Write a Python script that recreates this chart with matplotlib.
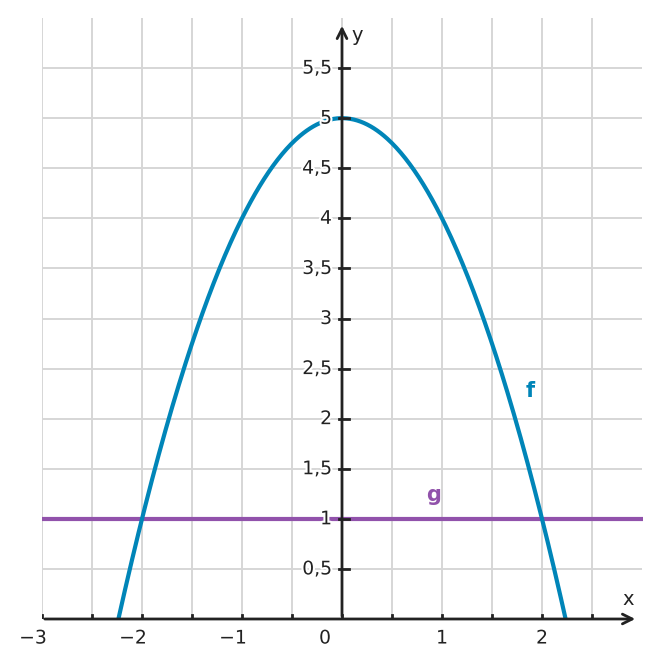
import numpy as np
from matplotlib import pyplot as plt
import matplotlib.patheffects as pe

# f(x) = a*x^2 + b*x + c, g(x) = const
f_coef = [-1.0, 0.0, 5.0]
g_val = 1.0
x_ticks = [-3, -2, -1, 0, 1, 2]
x_tick_labels = ['\u22123', '\u22122', '\u22121', '0', '1', '2']
y_ticks = [0.5, 1, 1.5, 2, 2.5, 3, 3.5, 4, 4.5, 5, 5.5]
y_tick_labels = ['0,5', '1', '1,5', '2', '2,5', '3', '3,5', '4', '4,5', '5', '5,5']

blue = '#0085b8'
purple = '#9152ab'
dark = '#222222'
halo = [pe.withStroke(linewidth=3, foreground='white')]

fig = plt.figure(figsize=(6.61, 6.68), dpi=100)
ax = fig.add_axes([42/661, 49/668, 600/661, 601/668])
ax.set_xlim(-3, 3)
ax.set_ylim(0, 6)
ax.axis('off')

# grid
for gx in np.arange(-3, 3, 0.5):
	ax.plot([gx, gx], [0, 6], color='#d6d6d6', lw=1.4, zorder=0)
for gy in np.arange(0.5, 6, 0.5):
	ax.plot([-3, 3.01], [gy, gy], color='#d6d6d6', lw=1.4, zorder=0)

# curves
xr = np.sqrt(-f_coef[2]/f_coef[0])
xs = np.linspace(-xr, xr, 400)
ax.plot(xs, np.polyval(f_coef, xs), color=blue, lw=3, zorder=3, solid_capstyle='butt')
ax.plot([-3, 3.01], [g_val, g_val], color=purple, lw=3, zorder=2, clip_on=False, solid_capstyle='butt')

# axes with arrows
ax.annotate('', xy=(2.96, 0), xytext=(-3, 0),
	arrowprops=dict(arrowstyle='->,head_length=0.7,head_width=0.35', color=dark, lw=2), zorder=4)
ax.annotate('', xy=(0, 5.95), xytext=(0, 0),
	arrowprops=dict(arrowstyle='->,head_length=0.7,head_width=0.35', color=dark, lw=2), zorder=4)
ax.text(2.86, 0.19, 'x', fontsize=14, color=dark, ha='center', va='center')
ax.text(0.15, 5.83, 'y', fontsize=14, color=dark, ha='center', va='center')

# ticks
for t in np.arange(-3, 3, 0.5):
	ax.plot([t, t], [0, 0.035], color=dark, lw=2, zorder=4)
for t in y_ticks:
	ax.plot([-0.035, 0.07], [t, t], color=dark, lw=2, zorder=4)

for t, lab in zip(x_ticks, x_tick_labels):
	if t < 0:
		xp = t - 0.09
	elif t == 0:
		xp = -0.17
	else:
		xp = t
	ax.text(xp, -0.19, lab, fontsize=13.5, color=dark, ha='center', va='center', zorder=5, path_effects=halo)
for t, lab in zip(y_ticks, y_tick_labels):
	ax.text(-0.1, t, lab, fontsize=13.5, color=dark, ha='right', va='center', zorder=5, path_effects=halo)

ax.text(1.88, 2.28, 'f', fontsize=15, color=blue, fontweight='bold', ha='center', va='center')
ax.text(0.92, 1.24, 'g', fontsize=15, color=purple, fontweight='bold', ha='center', va='center')

plt.savefig('out.png', dpi=100)
